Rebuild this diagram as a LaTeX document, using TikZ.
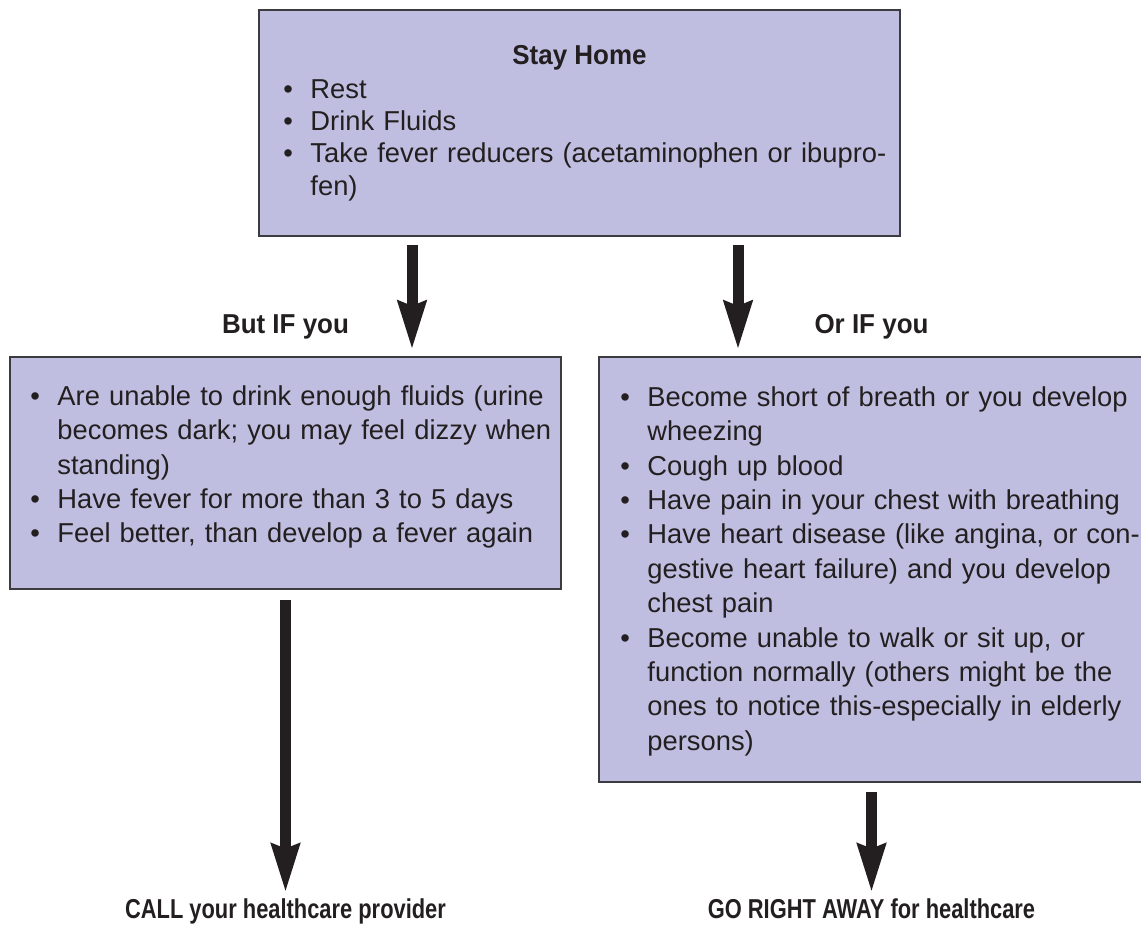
\documentclass[tikz,border=0pt]{standalone}
\usepackage{fontspec}
\setmainfont{Liberation Sans}
\newfontfamily\headfont{Liberation Sans}[FakeStretch=0.95]
\newfontfamily\callfont{Liberation Sans}[FakeStretch=0.8]
\usepackage{tikz}
\usetikzlibrary{arrows.meta,positioning}
\usepackage{xcolor}
\definecolor{boxfill}{RGB}{192,190,224}
\definecolor{boxline}{RGB}{60,60,64}
\definecolor{ink}{RGB}{35,31,32}
\newcommand{\itm}{\makebox[20.25pt][l]{•}}
\newcommand{\ind}{\hspace*{20.25pt}}

\begin{document}
\begin{tikzpicture}[x=0.75pt,y=-0.75pt,
  box/.style={draw=boxline,line width=1.5pt,fill=boxfill,anchor=north west,inner sep=0pt},
  list/.style={anchor=north west,inner sep=0pt,align=left,text width=400pt,text=ink,font=\fontsize{20.5pt}{25.8pt}\selectfont},
  head/.style={anchor=base,inner sep=0pt,text=ink,font=\fontsize{20.5pt}{24pt}\headfont\bfseries},
  goal/.style={anchor=base,inner sep=0pt,text height=15pt,text=ink,font=\fontsize{20.5pt}{24pt}\callfont\bfseries},
  fat/.style={-{Stealth[length=36pt,width=20.25pt,inset=3pt]},line width=8.25pt,ink}]

\useasboundingbox (0,0) rectangle (1141,927);

\node[box,minimum width=480.75pt,minimum height=169.5pt] (home) at (258,9) {};
\node[box,minimum width=413.25pt,minimum height=174pt] (ifa) at (9,356) {};
\node[box,minimum width=408.75pt,minimum height=318.75pt] (ifb) at (598,356) {};

\node[head] (stay) at ([yshift=-42pt]home.north) {Stay Home};
\node[list,text width=470pt,font=\fontsize{20.5pt}{24.2pt}\selectfont] (homel) at (283.2,75.4) {\strut\itm Rest\\
  \itm Drink Fluids\\
  \itm Take fever reducers (acetaminophen or ibupro-\\
  \ind fen)};

\node[list] (ifal) at (30.2,380.9) {\strut\itm Are unable to drink enough fluids (urine\\
  \ind becomes dark; you may feel dizzy when\\
  \ind standing)\\
  \itm Have fever for more than 3 to 5 days\\
  \itm Feel better, than develop a fever again};

\node[list] (ifbl) at (620.2,381.9) {\strut\itm Become short of breath or you develop\\
  \ind wheezing\\
  \itm Cough up blood\\
  \itm Have pain in your chest with breathing\\
  \itm Have heart disease (like angina, or con-\\
  \ind gestive heart failure) and you develop\\
  \ind chest pain\\
  \itm Become unable to walk or sit up, or\\
  \ind function normally (others might be the\\
  \ind ones to notice this-especially in elderly\\
  \ind persons)};

\node[head] (buta) at ([yshift=17.25pt]ifa.north) {But IF you};
\node[head] (orb) at ([yshift=17.25pt]ifb.north) {Or IF you};

\node[goal] (call) at ([yshift=-246pt]ifa.south) {CALL your healthcare provider};
\node[goal] (gob) at ([yshift=-101.25pt]ifb.south) {GO RIGHT AWAY for healthcare};

\coordinate (a1) at ([xshift=115.5pt]home.south west);
\coordinate (a2) at ([xshift=360pt]home.south west);

\draw[fat,shorten <=6pt,shorten >=4.5pt] (a1) -- (a1 |- ifa.north);
\draw[fat,shorten <=6pt,shorten >=4.5pt] (a2) -- (a2 |- ifb.north);
\draw[fat,shorten <=7.5pt,shorten >=3.75pt] (ifa.south) -- (call.north);
\draw[fat,shorten <=6.75pt,shorten >=3.75pt] (ifb.south) -- (gob.north);

\end{tikzpicture}
\end{document}
